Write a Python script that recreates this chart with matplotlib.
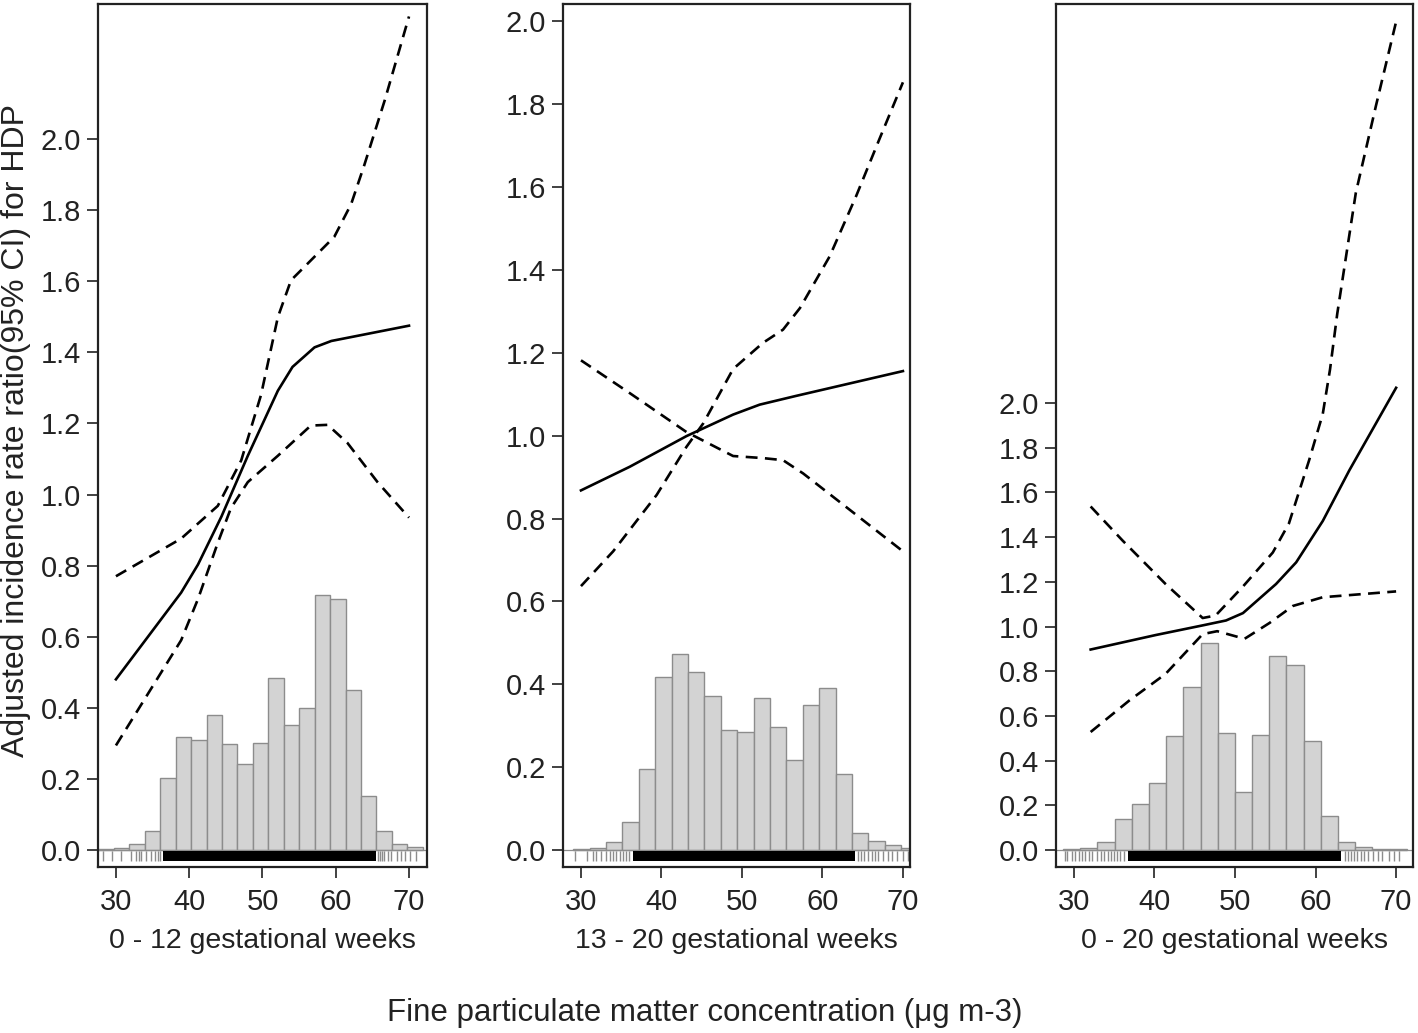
import numpy as np
import matplotlib
matplotlib.use("Agg")
import matplotlib.pyplot as plt

plt.rcParams['font.family'] = ['Liberation Sans', 'DejaVu Sans']

# ---------------- data ----------------
panel_labels = ['0 - 12 gestational weeks', '13 - 20 gestational weeks', '0 - 20 gestational weeks']

# panel 1: 0-12 weeks
p1_x     = [30.0, 38.9, 41.2, 44.4, 48.0, 52.1, 54.1, 57.1, 59.4, 70.0]
p1_est   = [0.480, 0.724, 0.803, 0.938, 1.109, 1.292, 1.359, 1.414, 1.432, 1.475]
p1_up_x  = [30.0, 38.9, 43.9, 47.1, 49.8, 52.1, 53.9, 55.7, 59.8, 62.1, 63.9, 66.7, 70.0]
p1_up    = [0.770, 0.876, 0.968, 1.096, 1.280, 1.499, 1.603, 1.640, 1.725, 1.817, 1.927, 2.110, 2.345]
p1_lo_x  = [30.0, 38.9, 41.2, 43.9, 45.7, 48.0, 52.1, 56.6, 58.9, 61.6, 65.7, 70.0]
p1_lo    = [0.294, 0.590, 0.706, 0.864, 0.962, 1.035, 1.109, 1.194, 1.196, 1.145, 1.035, 0.935]
p1_hist  = [0.002, 0.006, 0.017, 0.052, 0.201, 0.318, 0.309, 0.380, 0.298, 0.242, 0.301,
            0.484, 0.351, 0.399, 0.717, 0.707, 0.451, 0.153, 0.052, 0.018, 0.007]
p1_bin_start, p1_bin_width = 27.62, 2.1075
p1_rug = [28.2, 29.4, 30.7, 32.1, 32.8, 33.2, 33.4, 34.1, 34.8, 35.3, 35.7, 36.0,
          65.8, 66.0, 66.3, 66.6, 67.1, 67.6, 68.3, 68.9, 69.5, 70.2, 70.9]
p1_rug_band = (36.4, 65.5)

# panel 2: 13-20 weeks
p2_x     = [30.0, 36.05, 43.1, 48.9, 52.2, 56.7, 70.0]
p2_est   = [0.868, 0.925, 0.999, 1.051, 1.075, 1.096, 1.156]
p2_up_x  = [30.0, 34.0, 39.4, 43.1, 45.2, 48.9, 52.6, 55.1, 57.2, 60.9, 64.2, 67.1, 70.0]
p2_up    = [0.637, 0.721, 0.857, 0.973, 1.030, 1.161, 1.224, 1.256, 1.308, 1.433, 1.579, 1.717, 1.853]
p2_lo_x  = [30.0, 36.05, 43.1, 45.2, 48.9, 52.6, 55.1, 57.6, 63.8, 70.0]
p2_lo    = [1.182, 1.103, 1.009, 0.988, 0.951, 0.946, 0.941, 0.909, 0.815, 0.721]
p2_hist  = [0.002, 0.006, 0.019, 0.068, 0.195, 0.417, 0.474, 0.429, 0.371, 0.289, 0.285,
            0.367, 0.298, 0.217, 0.351, 0.392, 0.183, 0.042, 0.022, 0.012, 0.004]
p2_bin_start, p2_bin_width = 29.04, 2.037
p2_rug = [29.2, 30.7, 31.5, 31.9, 32.5, 33.1, 33.6, 34.0, 34.4, 34.8, 35.2, 35.6, 36.0,
          64.4, 64.8, 65.2, 65.6, 66.1, 66.5, 66.9, 67.5, 68.1, 68.7, 69.3, 70.0, 70.6]
p2_rug_band = (36.5, 64.0)

# panel 3: 0-20 weeks
p3_x     = [32.1, 40.2, 46.0, 48.9, 51.0, 55.1, 57.6, 60.9, 64.2, 70.0]
p3_est   = [0.897, 0.962, 1.005, 1.027, 1.060, 1.190, 1.287, 1.472, 1.699, 2.068]
p3_up_x  = [32.1, 36.05, 41.4, 46.0, 47.6, 51.0, 54.7, 56.7, 59.2, 60.9, 61.8, 62.7, 65.0, 67.5, 70.0]
p3_up    = [1.537, 1.385, 1.190, 1.038, 1.049, 1.179, 1.331, 1.461, 1.743, 1.951, 2.150,
            2.400, 2.940, 3.330, 3.706]
p3_lo_x  = [32.1, 36.9, 41.4, 46.0, 47.8, 51.2, 54.3, 57.2, 60.9, 70.0]
p3_lo    = [0.528, 0.669, 0.788, 0.966, 0.979, 0.945, 1.016, 1.092, 1.131, 1.157]
p3_hist  = [0.003, 0.0075, 0.037, 0.139, 0.204, 0.301, 0.509, 0.728, 0.928, 0.525,
            0.258, 0.513, 0.870, 0.826, 0.489, 0.154, 0.037, 0.015, 0.006, 0.003]
p3_bin_start, p3_bin_width = 28.67, 2.133
p3_rug = [28.9, 29.2, 29.8, 30.2, 30.6, 31.0, 31.4, 31.9, 32.3, 32.9, 33.4, 33.8, 34.2,
          34.6, 35.0, 35.4, 35.8, 36.2,
          63.6, 64.0, 64.4, 64.8, 65.2, 65.6, 66.0, 66.5, 67.1, 67.7, 68.3, 69.1, 69.7, 70.3]
p3_rug_band = (36.7, 63.2)

xticks = [30, 40, 50, 60, 70]
yticks = [0.0, 0.2, 0.4, 0.6, 0.8, 1.0, 1.2, 1.4, 1.6, 1.8, 2.0]

panels = [
    dict(x=p1_x, est=p1_est, up_x=p1_up_x, up=p1_up, lo_x=p1_lo_x, lo=p1_lo,
         hist=p1_hist, b0=p1_bin_start, bw=p1_bin_width, rug=p1_rug, band=p1_rug_band,
         xlim=(27.55, 72.45), ylim=(-0.048, 2.380), pos=[0.0691, 0.1607, 0.2320, 0.8354]),
    dict(x=p2_x, est=p2_est, up_x=p2_up_x, up=p2_up, lo_x=p2_lo_x, lo=p2_lo,
         hist=p2_hist, b0=p2_bin_start, bw=p2_bin_width, rug=p2_rug, band=p2_rug_band,
         xlim=(27.76, 70.87), ylim=(-0.041, 2.042), pos=[0.3970, 0.1607, 0.2447, 0.8354]),
    dict(x=p3_x, est=p3_est, up_x=p3_up_x, up=p3_up, lo_x=p3_lo_x, lo=p3_lo,
         hist=p3_hist, b0=p3_bin_start, bw=p3_bin_width, rug=p3_rug, band=p3_rug_band,
         xlim=(27.8, 72.1), ylim=(-0.076, 3.785), pos=[0.7447, 0.1607, 0.2518, 0.8354]),
]

txt_col = '#222222'
fig = plt.figure(figsize=(14.18, 10.33), dpi=100)

for i, p in enumerate(panels):
    ax = fig.add_axes(p['pos'])
    n = len(p['hist'])
    lefts = p['b0'] + p['bw'] * np.arange(n)
    ax.bar(lefts, p['hist'], width=p['bw'], align='edge', color='#d3d3d3',
           edgecolor='#8c8c8c', linewidth=1.0, zorder=1)
    ax.axhline(0, color='#8c8c8c', lw=0.9, zorder=1)

    # rug
    tr = ax.get_xaxis_transform()
    ax.vlines(p['rug'], 0.007, 0.018, transform=tr, colors='black', alpha=0.45, lw=1.0)
    ax.axvspan(p['band'][0], p['band'][1], ymin=0.007, ymax=0.018, color='black', lw=0)

    ax.plot(p['x'], p['est'], color='black', lw=1.9, zorder=3)
    ax.plot(p['up_x'], p['up'], color='black', lw=1.9, ls=(0, (4.5, 2.8)), zorder=3)
    ax.plot(p['lo_x'], p['lo'], color='black', lw=1.9, ls=(0, (4.5, 2.8)), zorder=3)

    ax.set_xlim(p['xlim'])
    ax.set_ylim(p['ylim'])
    ax.set_xticks(xticks)
    ax.set_yticks(yticks)
    ax.set_yticklabels([f'{v:.1f}' for v in yticks])
    ax.tick_params(axis='both', direction='out', length=8, width=1.3, color='#333333',
                   labelsize=21, labelcolor=txt_col, pad=4)
    ax.tick_params(axis='x', pad=7)
    for s in ax.spines.values():
        s.set_linewidth(1.6)
        s.set_color('#222222')
    ax.set_xlabel(panel_labels[i], fontsize=20.5, color=txt_col, labelpad=9)

fig.text(0.0113, 0.5837, 'Adjusted incidence rate ratio(95% CI) for HDP', rotation=90,
         ha='center', va='center', fontsize=23, color=txt_col)
fig.text(0.497, 0.019, 'Fine particulate matter concentration (\u03bcg m-3)',
         ha='center', va='center', fontsize=22.5, color=txt_col)

fig.savefig('out.png', dpi=100)
